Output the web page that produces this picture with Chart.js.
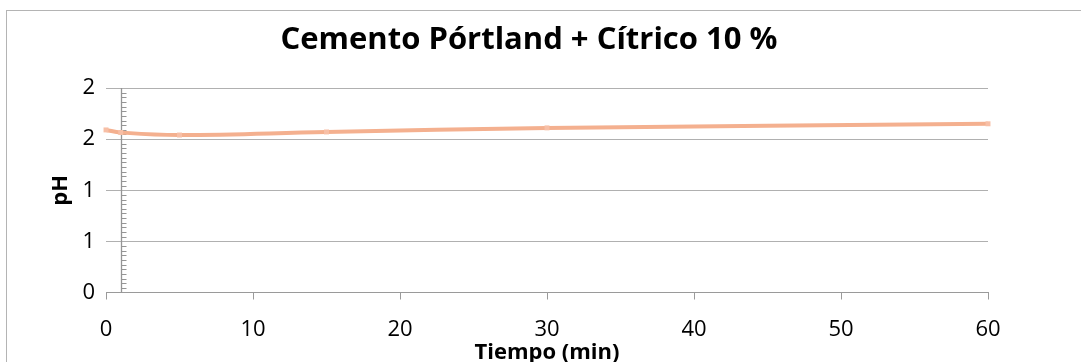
<!DOCTYPE html>
<html>
<head>
<meta charset="utf-8">
<script src="https://cdn.jsdelivr.net/npm/chart.js@4/dist/chart.umd.min.js"></script>
<style>
  html, body { margin: 0; padding: 0; background: #ffffff; }
  #wrap { width: 1081px; height: 362px; position: relative; overflow: hidden; }
  canvas { display: block; }
</style>
</head>
<body>
<div id="wrap"><canvas id="chart" width="1081" height="362"></canvas></div>
<script>
// Texts
const chartTitle = 'Cemento Pórtland + Cítrico 10 %';
const xAxisTitle = 'Tiempo (min)';
const yAxisTitle = 'pH';

// Measured series: time (min) and pH
const timeMin = [0, 1, 5, 15, 30, 60];
const phValues = [1.59, 1.565, 1.54, 1.57, 1.61, 1.65];

// Value-axis tick labels (values 0, 0.5, 1, 1.5, 2 shown with no decimals)
const yTickLabels = ['0', '1', '1', '2', '2'];

// Where the vertical axis line crosses the time axis
const yAxisCrossAt = 1;
const minorPerMajor = 11;

const FONT = "'Open Sans', 'Noto Sans', sans-serif";

// Outer frame and the inner vertical axis with its minor tick marks
const frameAndAxis = {
  id: 'frameAndAxis',
  beforeDraw(chart) {
    const { ctx, width, height } = chart;
    ctx.save();
    ctx.fillStyle = '#ffffff';
    ctx.fillRect(0, 0, width, height);
    ctx.strokeStyle = '#b4b4b4';
    ctx.lineWidth = 1;
    ctx.strokeRect(6.5, 10.5, width + 40, height + 40);
    ctx.restore();
  },
  beforeDatasetsDraw(chart) {
    const { ctx, scales: { x, y } } = chart;
    const px = Math.round(x.getPixelForValue(yAxisCrossAt)) + 0.5;
    const major = y.options.ticks.stepSize;
    const minorStep = major / minorPerMajor;
    const count = Math.round((y.max - y.min) / minorStep);
    ctx.save();
    ctx.strokeStyle = '#959595';
    ctx.lineWidth = 1.3;
    ctx.beginPath();
    ctx.moveTo(px, y.getPixelForValue(y.max));
    ctx.lineTo(px, y.getPixelForValue(y.min));
    ctx.stroke();
    ctx.lineWidth = 1;
    ctx.beginPath();
    for (let i = 1; i < count; i++) {
      if (i % minorPerMajor === 0) continue;
      const py = Math.round(y.getPixelForValue(y.min + i * minorStep)) + 0.5;
      ctx.moveTo(px, py);
      ctx.lineTo(px + 5, py);
    }
    ctx.stroke();
    ctx.restore();
  }
};

new Chart(document.getElementById('chart'), {
  type: 'scatter',
  data: {
    datasets: [{
      data: timeMin.map((t, i) => ({ x: t, y: phValues[i] })),
      showLine: true,
      tension: 0.4,
      borderColor: '#f4b08f',
      borderWidth: 4,
      pointStyle: 'rect',
      pointRadius: 3.5,
      pointBackgroundColor: '#f7bfa6',
      pointBorderWidth: 0,
      clip: false
    }]
  },
  options: {
    responsive: false,
    animation: false,
    devicePixelRatio: 1,
    layout: { padding: { left: 0, right: 23, top: 0, bottom: 0 } },
    plugins: {
      legend: { display: false },
      tooltip: { enabled: false },
      title: {
        display: true,
        text: chartTitle,
        color: '#000000',
        font: { family: FONT, size: 31, weight: 'bold', lineHeight: 1.2 },
        padding: { top: 22, bottom: 28.8 }
      }
    },
    scales: {
      x: {
        type: 'linear',
        position: 'bottom',
        min: 0,
        max: 60,
        ticks: {
          stepSize: 10,
          padding: 17,
          color: '#000000',
          font: { family: FONT, size: 22 }
        },
        grid: {
          drawOnChartArea: false,
          drawTicks: true,
          tickLength: 7,
          color: '#9a9a9a'
        },
        border: { display: true, color: '#9a9a9a', width: 1 },
        title: {
          display: true,
          text: xAxisTitle,
          color: '#000000',
          font: { family: FONT, size: 22, weight: 'bold', lineHeight: 0.8 },
          padding: { top: 0, bottom: 0 }
        },
        afterFit(scale) { scale.height = 69.5; }
      },
      y: {
        type: 'linear',
        position: 'left',
        min: 0,
        max: 2,
        ticks: {
          stepSize: 0.5,
          padding: 11,
          color: '#000000',
          font: { family: FONT, size: 22 },
          callback: (value, index) => yTickLabels[index]
        },
        grid: {
          drawTicks: false,
          color: '#b0b0b0',
          lineWidth: 1
        },
        border: { display: false },
        title: {
          display: true,
          text: yAxisTitle,
          color: '#000000',
          font: { family: FONT, size: 22, weight: 'bold', lineHeight: 1.2 },
          padding: { top: 48, bottom: 0 }
        },
        afterFit(scale) { scale.width = 106; }
      },
      yRight: {
        type: 'linear',
        position: 'right',
        display: true,
        ticks: { display: false },
        grid: { display: false },
        border: { display: false },
        afterFit(scale) { scale.width = 70; }
      }
    }
  },
  plugins: [frameAndAxis]
});
</script>
</body>
</html>
